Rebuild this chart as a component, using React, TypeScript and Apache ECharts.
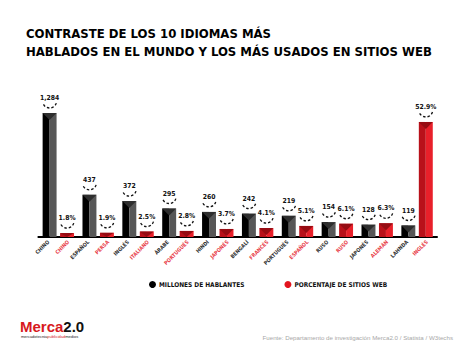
import React, { useEffect, useRef } from "react";
import * as echarts from "echarts";

const pairIndex = ["0", "1", "2", "3", "4", "5", "6", "7", "8", "9"];
const speakerLanguages = ["CHINO", "ESPAÑOL", "INGLÉS", "ÁRABE", "HINDI", "BENGALÍ", "PORTUGUÉS", "RUSO", "JAPONÉS", "LAHNDA"];
const speakers = [1284, 437, 372, 295, 260, 242, 219, 154, 128, 119];
const webLanguages = ["CHINO", "PERSA", "ITALIANO", "PORTUGUÉS", "JAPONÉS", "FRANCÉS", "ESPAÑOL", "RUSO", "ALEMÁN", "INGLÉS"];
const webShare = [1.8, 1.9, 2.5, 2.8, 3.7, 4.1, 5.1, 6.1, 6.3, 52.9];

const axisLabels: string[] = [];
speakerLanguages.forEach((l, i) => { axisLabels.push(l); axisLabels.push(webLanguages[i]); });

const COND = "'DejaVu Sans Condensed', 'Roboto', sans-serif";

const makeRender = (side: number, colors: { left: string; right: string; top: string }, fmt: (v: number) => string) =>
  (params: any, api: any) => {
    const i = api.value(0);
    const v = api.value(1);
    const top = api.coord([i, v]);
    const base = api.coord([i, 0]);
    const cw = api.size([1, 0])[0];
    const w = cw * 0.35;
    const cx = top[0] + side * cw * 0.219;
    const x0 = cx - w / 2;
    const h = base[1] - top[1];
    const tri = Math.min(w * 0.5, h);
    return {
      type: "group",
      children: [
        { type: "rect", shape: { x: x0, y: top[1], width: w / 2, height: h }, style: { fill: colors.left } },
        { type: "rect", shape: { x: cx, y: top[1], width: w / 2, height: h }, style: { fill: colors.right } },
        { type: "polygon", shape: { points: [[x0, top[1]], [x0 + w, top[1]], [cx, top[1] + tri]] }, style: { fill: colors.top } },
        {
          type: "text",
          x: cx,
          y: top[1] - 15,
          style: { text: fmt(v), fill: "#111", fontSize: 6.8, fontWeight: "bold", fontFamily: COND, align: "center", verticalAlign: "middle" },
        },
        {
          type: "arc",
          shape: { cx: cx, cy: top[1] - 12, r: 7, startAngle: 0.3, endAngle: Math.PI - 0.3 },
          style: { stroke: "#111", lineWidth: 1.3, lineDash: [2.5, 2], fill: "none" },
        },
      ],
    };
  };

export default function App() {
  const ref = useRef<HTMLDivElement>(null);
  useEffect(() => {
    document.body.style.margin = "0";
    const chart = echarts.init(ref.current!, null, { renderer: "svg" });
    chart.setOption({
      animation: false,
      backgroundColor: "#ffffff",
      title: {
        text: "CONTRASTE DE LOS 10 IDIOMAS MÁS\nHABLADOS EN EL MUNDO Y LOS MÁS USADOS EN SITIOS WEB",
        left: 21,
        top: 19,
        textStyle: { fontSize: 13, fontWeight: "bold", fontFamily: COND, color: "#000", lineHeight: 18.5 },
      },
      legend: {
        left: 144,
        top: 276,
        itemWidth: 7,
        itemHeight: 7,
        itemGap: 40,
        icon: "circle",
        textStyle: { fontSize: 6.5, fontWeight: "bold", fontFamily: COND, color: "#111", padding: [0, 0, 0, -2] },
        data: [
          { name: "MILLONES DE HABLANTES", itemStyle: { color: "#000" } },
          { name: "PORCENTAJE DE SITIOS WEB", itemStyle: { color: "#e3141e" } },
        ],
      },
      grid: { left: 38.4, right: 37, top: 100, bottom: 118, outerBoundsMode: "none" },
      xAxis: [
        {
          type: "category",
          data: pairIndex,
          position: "bottom",
          axisLine: { lineStyle: { color: "#000", width: 2 } },
          axisTick: { show: false },
          axisLabel: { show: false },
          splitLine: { show: false },
        },
        {
          type: "category",
          data: axisLabels,
          position: "bottom",
          axisLine: { show: false },
          axisTick: { show: false },
          splitLine: { show: false },
          axisLabel: {
            rotate: 45,
            interval: 0,
            margin: 4,
            fontSize: 5.3,
            fontWeight: "bold",
            fontFamily: COND,
            color: (_v: any, idx: number) => (idx % 2 === 0 ? "#333" : "#e8424b"),
          },
        },
      ],
      yAxis: [
        { type: "value", min: 0, max: 1418.6, show: false },
        { type: "value", min: 0, max: 63, show: false },
      ],
      series: [
        {
          name: "MILLONES DE HABLANTES",
          type: "custom",
          xAxisIndex: 0,
          yAxisIndex: 0,
          clip: false,
          itemStyle: { color: "#000" },
          encode: { x: 0, y: 1 },
          data: speakers.map((v, i) => [i, v]),
          renderItem: makeRender(-1, { left: "#000000", right: "#575757", top: "#2e2e2e" }, (v) => v.toLocaleString("en-US")),
        },
        {
          name: "PORCENTAJE DE SITIOS WEB",
          type: "custom",
          xAxisIndex: 0,
          yAxisIndex: 1,
          clip: false,
          itemStyle: { color: "#e3141e" },
          encode: { x: 0, y: 1 },
          data: webShare.map((v, i) => [i, v]),
          renderItem: makeRender(1, { left: "#b8111a", right: "#e8202a", top: "#960c13" }, (v) => v.toFixed(1) + "%"),
        },
      ],
      graphic: [
        {
          type: "text",
          left: 20,
          top: 319,
          style: {
            text: "{r|Merca}{b|2.0}",
            rich: {
              r: { fontSize: 15, fontWeight: "bold", fontFamily: "'Liberation Sans', Arial, sans-serif", fill: "#d71920" },
              b: { fontSize: 15, fontWeight: "bold", fontFamily: "'Liberation Sans', Arial, sans-serif", fill: "#111" },
            },
          },
        },
        {
          type: "text",
          left: 21,
          top: 334,
          style: {
            text: "{k|mercadotecnia}{r|publicidad}{k|medios}",
            rich: {
              k: { fontSize: 4, fontFamily: "'Liberation Sans', Arial, sans-serif", fill: "#222" },
              r: { fontSize: 4, fontFamily: "'Liberation Sans', Arial, sans-serif", fill: "#d71920" },
            },
          },
        },
        {
          type: "text",
          right: 21,
          top: 334,
          style: {
            text: "Fuente: Departamento de investigación Merca2.0 / Statista / W3techs",
            fontSize: 6.2,
            fontFamily: "'Liberation Sans', Arial, sans-serif",
            fill: "#a8a8a8",
          },
        },
      ],
    });
    return () => chart.dispose();
  }, []);
  return <div ref={ref} style={{ width: 474, height: 355 }} />;
}
